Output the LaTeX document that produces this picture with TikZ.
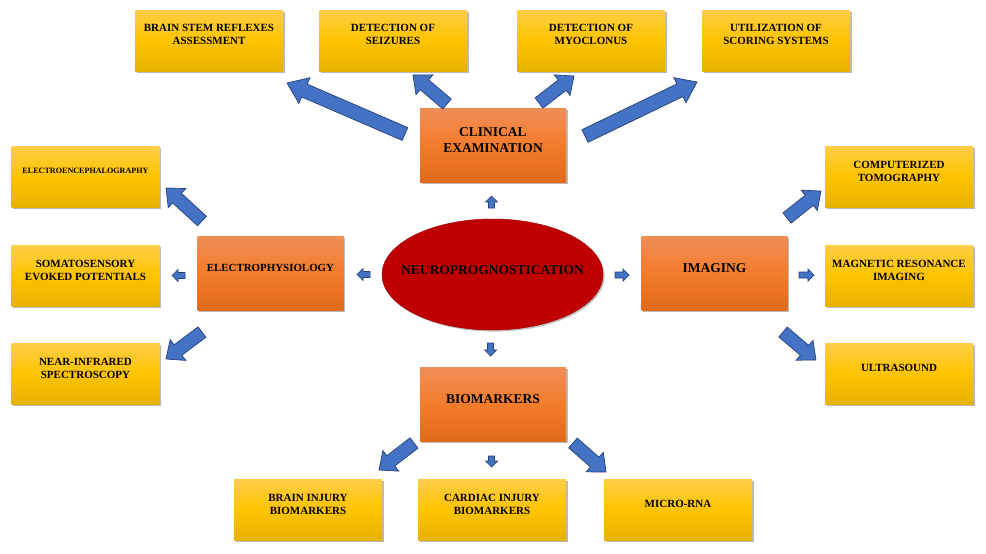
\documentclass[tikz,border=0pt]{standalone}
\usepackage{fontspec}
\setmainfont{Liberation Serif}
\usetikzlibrary{calc,shadows,shapes.geometric}
\definecolor{yTop}{RGB}{255,206,72}
\definecolor{yMid}{RGB}{255,196,0}
\definecolor{yBot}{RGB}{230,178,0}
\definecolor{oTop}{RGB}{240,142,88}
\definecolor{oMid}{RGB}{243,124,42}
\definecolor{oBot}{RGB}{226,106,28}
\definecolor{ellRed}{RGB}{192,0,0}
\definecolor{arrFill}{RGB}{68,114,196}
\definecolor{arrLine}{RGB}{38,64,120}
\tikzset{
  ybox/.style={rectangle, minimum width=148pt, minimum height=61pt, inner sep=0pt,
    top color=yTop, bottom color=yBot, middle color=yMid,
    drop shadow={shadow xshift=1.6pt, shadow yshift=-1.6pt, opacity=0.45, fill=black!60}},
  obox/.style={rectangle, minimum width=146pt, minimum height=74pt, inner sep=0pt,
    top color=oTop, bottom color=oBot, middle color=oMid,
    drop shadow={shadow xshift=1.6pt, shadow yshift=-1.6pt, opacity=0.45, fill=black!60}},
  txt/.style={inner sep=0pt, align=center, font=\bfseries\fontsize{11}{13}\selectfont},
  btxt/.style={inner sep=0pt, align=center, font=\bfseries\fontsize{13.5}{16}\selectfont},
  barrow/.style={fill=arrFill, draw=arrLine, line width=0.7pt, line join=miter},
}
\newcommand\blockarrow[5]{%
  \coordinate (ba-b) at ($(#2)!#5!(#1)$);
  \draw[barrow] ($(#1)!#3!90:(#2)$) -- ($(ba-b)!#3!90:(#2)$) -- ($(ba-b)!#4!90:(#2)$)
    -- (#2) -- ($(ba-b)!#4!-90:(#2)$) -- ($(ba-b)!#3!-90:(#2)$) -- ($(#1)!#3!-90:(#2)$) -- cycle;}
\newcommand\bigarrow[2]{\blockarrow{#1}{#2}{7pt}{14pt}{19pt}}
\newcommand\midarrow[2]{\blockarrow{#1}{#2}{6.5pt}{13pt}{15pt}}
\newcommand\smlarrow[2]{\blockarrow{#1}{#2}{3pt}{6pt}{6pt}}
\begin{document}
\begin{tikzpicture}[x=1pt,y=-1pt]
\useasboundingbox (0,0) rectangle (986,554);
\fill[white] (0,0) rectangle (986,554);

% top row
\node[ybox] (bs) at (209,40.5) {};
\node[txt] (bs-t) at ([yshift=6pt]bs.center) {BRAIN STEM REFLEXES\\ASSESSMENT};
\node[ybox] (sz) at (393,40.5) {};
\node[txt] (sz-t) at ([yshift=6pt]sz.center) {DETECTION OF\\SEIZURES};
\node[ybox] (my) at (591,40.5) {};
\node[txt] (my-t) at ([yshift=6pt]my.center) {DETECTION OF\\MYOCLONUS};
\node[ybox] (ut) at (776,40.5) {};
\node[txt] (ut-t) at ([yshift=6pt]ut.center) {UTILIZATION OF\\SCORING SYSTEMS};

% left column
\node[ybox] (eeg) at (85.5,176.5) {};
\node[txt,font=\bfseries\fontsize{8.1}{9}\selectfont] (eeg-t) at ([yshift=5.5pt]eeg.center) {ELECTROENCEPHALOGRAPHY};
\node[ybox] (ssep) at (85.5,275.5) {};
\node[txt] (ssep-t) at ([yshift=5.5pt]ssep.center) {SOMATOSENSORY\\EVOKED POTENTIALS};
\node[ybox] (nirs) at (85.5,373.5) {};
\node[txt] (nirs-t) at ([yshift=5.5pt]nirs.center) {NEAR-INFRARED\\SPECTROSCOPY};

% right column
\node[ybox] (ct) at (899,176.5) {};
\node[txt] (ct-t) at ([yshift=5.5pt]ct.center) {COMPUTERIZED\\TOMOGRAPHY};
\node[ybox] (mri) at (899,275.5) {};
\node[txt] (mri-t) at ([yshift=5.5pt]mri.center) {MAGNETIC RESONANCE\\IMAGING};
\node[ybox] (us) at (899,373.5) {};
\node[txt] (us-t) at ([yshift=5.5pt]us.center) {ULTRASOUND};

% bottom row
\node[ybox] (bib) at (308,509.5) {};
\node[txt] (bib-t) at ([yshift=5.5pt]bib.center) {BRAIN INJURY\\BIOMARKERS};
\node[ybox] (cib) at (492,509.5) {};
\node[txt] (cib-t) at ([yshift=5.5pt]cib.center) {CARDIAC INJURY\\BIOMARKERS};
\node[ybox] (mrna) at (678,509.5) {};
\node[txt] (mrna-t) at ([yshift=5.5pt]mrna.center) {MICRO-RNA};

% orange boxes
\node[obox] (clin) at (493,145) {};
\node[btxt] (clin-t) at ([yshift=5pt]clin.center) {CLINICAL\\EXAMINATION};
\node[obox] (ephys) at (270.5,273) {};
\node[btxt,font=\bfseries\fontsize{10.9}{13}\selectfont] (ephys-t) at ([yshift=5pt]ephys.center) {ELECTROPHYSIOLOGY};
\node[obox] (img) at (714.5,273) {};
\node[btxt] (img-t) at ([yshift=5pt]img.center) {IMAGING};
\node[obox] (bio) at (493,404.5) {};
\node[btxt] (bio-t) at ([yshift=5.5pt]bio.center) {BIOMARKERS};

% central ellipse
\node[ellipse, minimum width=221pt, minimum height=111pt, inner sep=0pt, fill=ellRed,
  draw=ellRed!80!black, line width=0.5pt,
  drop shadow={shadow xshift=1.6pt, shadow yshift=-1.6pt, opacity=0.4, fill=black!60}] (np) at (492.5,274.5) {};
\node[btxt] (np-t) at ([yshift=4pt]np.center) {NEUROPROGNOSTICATION};

% arrow end points
\coordinate (a1t) at (405,134);  \coordinate (a1h) at (287,83);
\coordinate (a2t) at (447,104);  \coordinate (a2h) at (413,75);
\coordinate (a3t) at (539,103);  \coordinate (a3h) at (574,76);
\coordinate (a4t) at (585,136);  \coordinate (a4h) at (697,82);
\coordinate (a5t) at (491.5,208); \coordinate (a5h) at (491.5,196);
\coordinate (a6t) at (370,274.5); \coordinate (a6h) at (357,274.5);
\coordinate (a7t) at (615,275);  \coordinate (a7h) at (629,275);
\coordinate (a8t) at (490.5,343); \coordinate (a8h) at (490.5,356);
\coordinate (a9t) at (202,221);  \coordinate (a9h) at (166,188);
\coordinate (a10t) at (185,275.5); \coordinate (a10h) at (172,275.5);
\coordinate (a11t) at (202,332); \coordinate (a11h) at (166,359);
\coordinate (a12t) at (787,218); \coordinate (a12h) at (821,191);
\coordinate (a13t) at (799,275); \coordinate (a13h) at (814,275);
\coordinate (a14t) at (783,332); \coordinate (a14h) at (816,360);
\coordinate (a15t) at (414,443); \coordinate (a15h) at (379,470);
\coordinate (a16t) at (491.5,456); \coordinate (a16h) at (491.5,467);
\coordinate (a17t) at (573,443); \coordinate (a17h) at (606,472);

\bigarrow{a1t}{a1h}
\midarrow{a2t}{a2h}
\midarrow{a3t}{a3h}
\bigarrow{a4t}{a4h}
\smlarrow{a5t}{a5h}
\smlarrow{a6t}{a6h}
\smlarrow{a7t}{a7h}
\smlarrow{a8t}{a8h}
\midarrow{a9t}{a9h}
\smlarrow{a10t}{a10h}
\midarrow{a11t}{a11h}
\midarrow{a12t}{a12h}
\smlarrow{a13t}{a13h}
\midarrow{a14t}{a14h}
\midarrow{a15t}{a15h}
\smlarrow{a16t}{a16h}
\midarrow{a17t}{a17h}
\end{tikzpicture}
\end{document}
